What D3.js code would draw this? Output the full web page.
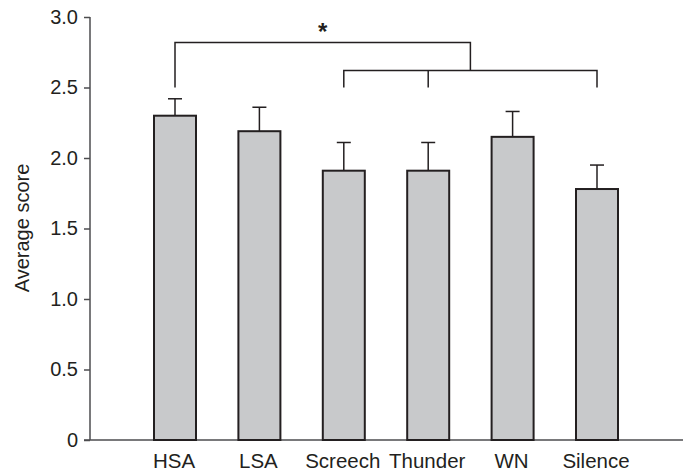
<!DOCTYPE html>
<html>
<head>
<meta charset="utf-8">
<script src="https://cdn.jsdelivr.net/npm/d3@7"></script>
<style>
  html, body { margin: 0; padding: 0; background: #fff; }
  svg { display: block; }
  text { font-family: "Liberation Sans", Arial, Helvetica, sans-serif; fill: #231f20; }
</style>
</head>
<body>
<svg id="chart" width="683" height="474"></svg>
<script>
// Mean score per sound condition, with the upper error (mean + SE)
const categories = ["HSA", "LSA", "Screech", "Thunder", "WN", "Silence"];
const means = [2.30, 2.19, 1.91, 1.91, 2.15, 1.78];
const upperErrors = [2.42, 2.36, 2.11, 2.11, 2.33, 1.95];
const yTicks = [0, 0.5, 1.0, 1.5, 2.0, 2.5, 3.0];

// Significance comparison: HSA vs. the group of Screech, Thunder and Silence
const groupMembers = ["Screech", "Thunder", "Silence"];
const singleMember = "HSA";
const bracketLevels = { outer: 2.82, inner: 2.62, legEnd: 2.50 };
const significanceLabel = "*";

const svg = d3.select("#chart");
const ink = "#231f20";
const axisInk = "#4d4d4f";

const y = d3.scaleLinear().domain([0, 3]).range([440, 17]);
const x = d3.scalePoint().domain(categories).range([175, 597]);
const barWidth = 42;

// Axes
const yAxis = d3.axisLeft(y)
  .tickValues(yTicks)
  .tickSize(6)
  .tickPadding(6)
  .tickFormat(d => d === 0 ? "0" : d.toFixed(1));

const gy = svg.append("g").attr("transform", "translate(90,0)").call(yAxis);
gy.select(".domain").attr("d", `M0,${y(3)}V${y(0)}`).attr("stroke", axisInk).attr("stroke-width", 1.5);
gy.selectAll(".tick line").attr("stroke", axisInk).attr("stroke-width", 1.5);
gy.selectAll(".tick text")
  .attr("font-size", 20)
  .attr("font-family", "Liberation Sans, Arial, sans-serif")
  .attr("fill", ink);

// Baseline across the full width
svg.append("line")
  .attr("x1", 84).attr("x2", 683)
  .attr("y1", y(0)).attr("y2", y(0))
  .attr("stroke", axisInk).attr("stroke-width", 1.5);

// Category labels
svg.append("g").selectAll("text")
  .data(categories)
  .join("text")
  .attr("x", d => x(d) - 1)
  .attr("y", 468)
  .attr("text-anchor", "middle")
  .attr("font-size", 20.5)
  .text(d => d);

// Y axis title
svg.append("text")
  .attr("transform", `translate(29,228) rotate(-90)`)
  .attr("text-anchor", "middle")
  .attr("font-size", 20)
  .text("Average score");

const data = categories.map((c, i) => ({ c, m: means[i], e: upperErrors[i] }));

// Error bars (upper only)
const err = svg.append("g").attr("stroke", ink).attr("stroke-width", 1.5);
err.selectAll("line.stem")
  .data(data).join("line")
  .attr("class", "stem")
  .attr("x1", d => x(d.c)).attr("x2", d => x(d.c))
  .attr("y1", d => y(d.m)).attr("y2", d => y(d.e));
err.selectAll("line.cap")
  .data(data).join("line")
  .attr("class", "cap")
  .attr("x1", d => x(d.c) - 7).attr("x2", d => x(d.c) + 7)
  .attr("y1", d => y(d.e)).attr("y2", d => y(d.e));

// Bars
svg.append("g").selectAll("rect")
  .data(data).join("rect")
  .attr("x", d => x(d.c) - barWidth / 2)
  .attr("y", d => y(d.m))
  .attr("width", barWidth)
  .attr("height", d => y(0) - y(d.m))
  .attr("fill", "#c8c9cb")
  .attr("stroke", ink)
  .attr("stroke-width", 2);

// Significance brackets
const br = svg.append("g").attr("stroke", ink).attr("stroke-width", 1.5).attr("fill", "none");
const gx = groupMembers.map(x);
const innerLeft = d3.min(gx), innerRight = d3.max(gx);
const innerMid = (innerLeft + innerRight) / 2;

// Inner bracket joining the grouped conditions
br.append("path")
  .attr("d", `M${innerLeft},${y(bracketLevels.legEnd)}V${y(bracketLevels.inner)}H${innerRight}V${y(bracketLevels.legEnd)}`);
gx.filter(v => v !== innerLeft && v !== innerRight).forEach(v => {
  br.append("line")
    .attr("x1", v).attr("x2", v)
    .attr("y1", y(bracketLevels.inner)).attr("y2", y(bracketLevels.legEnd));
});

// Outer bracket from HSA to the group
const sx = x(singleMember);
br.append("path")
  .attr("d", `M${sx},${y(bracketLevels.legEnd)}V${y(bracketLevels.outer)}H${innerMid}V${y(bracketLevels.inner)}`);

svg.append("text")
  .attr("x", (sx + innerMid) / 2)
  .attr("y", y(bracketLevels.outer) - 2)
  .attr("text-anchor", "middle")
  .attr("font-size", 24)
  .attr("font-weight", "bold")
  .text(significanceLabel);
</script>
</body>
</html>
